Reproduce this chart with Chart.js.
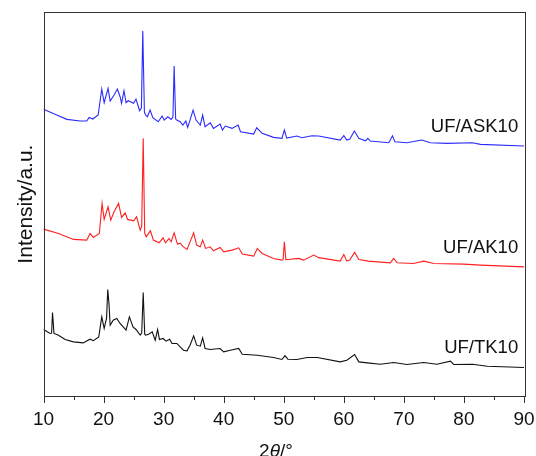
<!DOCTYPE html>
<html>
<head>
<meta charset="utf-8">
<script src="https://cdn.jsdelivr.net/npm/chart.js@4"></script>
<style>
  html, body { margin: 0; padding: 0; background: #fff; }
  #wrap { width: 536px; height: 456px; }
</style>
</head>
<body>
<div id="wrap"><canvas id="xrd" width="536" height="456"></canvas></div>
<script>
// XRD patterns (intensity in arbitrary units, offset per sample)
const askTheta = [10, 12.2, 13.9, 16.1, 17.2, 17.6, 18.2, 19.1, 19.7, 20.1, 20.75, 21.1, 21.75, 22.3, 22.75, 23.0, 23.4, 23.75, 24.1, 25, 25.4, 26, 26.3, 26.53, 26.8, 27, 27.3, 27.75, 28.2, 29.1, 29.75, 30.1, 30.7, 31.25, 31.55, 31.75, 32.0, 32.2, 32.75, 33.2, 33.7, 34.0, 34.4, 34.9, 35.4, 36.1, 36.5, 36.9, 37.75, 38.3, 39.4, 39.8, 40.25, 41.4, 42.4, 42.8, 45.0, 45.5, 46.4, 48.3, 49.7, 50.1, 50.5, 52.2, 53, 54.7, 55.8, 59.4, 60.0, 60.5, 61.0, 61.75, 62.5, 63.6, 64.0, 64.4, 67.5, 68.1, 68.5, 70.5, 73.0, 74.4, 77.2, 81.4, 82.75, 90];
const askCounts = [286.7, 281, 276.7, 275, 275, 278.7, 277, 281, 307, 293.3, 307.7, 295, 301, 307, 299.3, 292.7, 305.3, 293.3, 295.3, 292.7, 297, 285.3, 288, 365, 284, 281, 279.3, 286, 278.3, 274.3, 280, 276, 279.3, 276.7, 279, 330, 277, 276, 274.3, 271, 275, 268.7, 276, 286, 276, 271, 281, 269.3, 273.3, 267.7, 272, 266, 270, 267.7, 271, 264.3, 262, 268.3, 262.7, 258.7, 257.7, 266, 258, 260, 258.3, 260.3, 260, 256, 260.3, 256, 257, 265, 257.7, 255.3, 257.7, 255, 253.3, 260.3, 254.3, 253.3, 256, 253.3, 252.7, 253.3, 251.7, 250];

const akTheta = [10, 12.5, 15, 17.2, 17.75, 18.3, 19.3, 19.75, 20.1, 20.75, 21.2, 21.75, 22.5, 23, 23.6, 24, 25, 25.5, 26.1, 26.35, 26.6, 26.85, 27.1, 27.8, 28.3, 29.25, 29.9, 30.3, 30.9, 31.25, 31.75, 32.3, 32.75, 33.3, 33.9, 35.0, 35.5, 36.1, 36.5, 37, 37.75, 38.3, 39.4, 40, 41.4, 42.5, 43.1, 45, 45.6, 46.4, 48.3, 49.7, 49.9, 50.1, 50.35, 50.7, 52.5, 53.3, 55.0, 55.8, 59.4, 60, 60.5, 61, 61.8, 62.5, 64.1, 67.75, 68.3, 68.9, 71.6, 73.3, 75, 80, 82.75, 90];
const akCounts = [167, 162.7, 156.7, 156, 162.7, 158.7, 162.7, 192.7, 176.7, 189.3, 176, 184.3, 192.7, 178.7, 183.3, 176.7, 175.3, 179.3, 166, 170, 257.7, 163, 159.3, 165.3, 156, 153.3, 158.3, 153.3, 157.7, 154.3, 163.3, 152, 153, 149.3, 146.7, 163.3, 151, 149.3, 156, 147.7, 149.3, 145.3, 148.7, 144.3, 146, 148.3, 142, 140, 147.7, 142.7, 137.7, 136, 137, 154.3, 136.5, 136.7, 137.7, 136, 141, 138.5, 135, 141.7, 135, 136, 143.7, 136.7, 135, 133.3, 137.7, 133.3, 132.7, 135, 132.7, 132, 131, 129.3];

const tkTheta = [10, 11.1, 11.35, 11.5, 11.75, 12.5, 13.6, 15, 16.6, 17.75, 18.3, 19.2, 19.7, 20.1, 20.5, 20.7, 20.9, 21.1, 21.6, 22.2, 22.75, 23.75, 24.3, 24.9, 25.4, 26.1, 26.35, 26.6, 26.85, 27, 27.5, 28.1, 28.6, 29.0, 29.3, 29.9, 30.4, 31, 31.4, 32.2, 33.3, 33.9, 34.4, 35.0, 35.5, 36.1, 36.5, 36.9, 37.75, 39.4, 40, 41.1, 42.5, 43.1, 45.6, 48.3, 49.7, 50.2, 50.7, 52.2, 53.9, 55.6, 59.4, 60.5, 61.8, 62.5, 63.9, 66.1, 68.3, 70.5, 73.3, 75.5, 77.75, 78.3, 81.4, 83.9, 90];
const tkCounts = [66.7, 62.7, 63, 83.7, 62.7, 61, 56.7, 54.3, 53.3, 57, 55.5, 59.3, 79.3, 67.7, 78, 106.7, 92.7, 71, 76, 77.7, 72.7, 66, 79.3, 69.3, 66.7, 61, 63, 103.7, 62, 61, 62, 64.3, 56, 66.7, 56.7, 57.7, 55, 57, 52.7, 52.7, 46, 45.3, 51, 60.3, 51, 50, 58.3, 47.7, 46.7, 47.7, 44.3, 46, 47.7, 42, 41, 38.7, 36.7, 40.5, 37, 36.7, 38.7, 38.7, 34.3, 36, 41.7, 34.3, 33.3, 32, 33.7, 31.7, 33.7, 32, 35, 31.7, 32, 30, 28.7];

const sampleNames = ['UF/ASK10', 'UF/AK10', 'UF/TK10'];
const sampleColors = ['#2b2bff', '#ff2020', '#111111'];
const xTicks = [10, 20, 30, 40, 50, 60, 70, 80, 90];

const FONT = '"Liberation Sans", Arial, Helvetica, sans-serif';

function toPoints(xs, ys) {
    return xs.map((x, i) => ({ x: x, y: ys[i] }));
}

// frame, minor/major ticks, sample labels and axis titles
const decorPlugin = {
    id: 'decor',
    afterDraw(chart) {
        const ctx = chart.ctx;
        const area = chart.chartArea;
        const xs = chart.scales.x;
        const ys = chart.scales.y;
        ctx.save();
        ctx.strokeStyle = '#333';
        ctx.lineWidth = 1;
        ctx.strokeRect(Math.round(area.left) + 0.5, Math.round(area.top) + 0.5,
            Math.round(area.right - area.left), Math.round(area.bottom - area.top));

        ctx.beginPath();
        for (let v = 10; v <= 90; v += 5) {
            const px = Math.round(xs.getPixelForValue(v)) + 0.5;
            const len = v % 10 === 0 ? 7 : 4;
            ctx.moveTo(px, Math.round(area.bottom));
            ctx.lineTo(px, Math.round(area.bottom) + len);
        }
        ctx.stroke();

        // sample labels, right aligned just inside the frame
        const labelAnchors = [264.3, 142.7, 42.7];
        ctx.fillStyle = '#111';
        ctx.font = '18.5px ' + FONT;
        ctx.textAlign = 'right';
        ctx.textBaseline = 'alphabetic';
        sampleNames.forEach((name, i) => {
            ctx.fillText(name, xs.getPixelForValue(89.03), ys.getPixelForValue(labelAnchors[i]));
        });

        // y title
        ctx.save();
        ctx.translate(31.5, (area.top + area.bottom) / 2);
        ctx.rotate(-Math.PI / 2);
        ctx.textAlign = 'center';
        ctx.font = '21px ' + FONT;
        ctx.fillText('Intensity/a.u.', 0, 0);
        ctx.restore();

        // x title: 2θ/° with italic theta
        const parts = [['2', ''], ['\u03b8', 'italic '], ['/\u00b0', '']];
        let total = 0;
        parts.forEach(p => { ctx.font = p[1] + '19px ' + FONT; total += ctx.measureText(p[0]).width; });
        let cx = 276 - total / 2;
        ctx.textAlign = 'left';
        ctx.textBaseline = 'alphabetic';
        parts.forEach(p => {
            ctx.font = p[1] + '19px ' + FONT;
            ctx.fillText(p[0], cx, 457);
            cx += ctx.measureText(p[0]).width;
        });
        ctx.restore();
    }
};

const seriesData = [
    toPoints(askTheta, askCounts),
    toPoints(akTheta, akCounts),
    toPoints(tkTheta, tkCounts)
];

new Chart(document.getElementById('xrd'), {
    type: 'line',
    data: {
        datasets: seriesData.map((pts, i) => ({
            label: sampleNames[i],
            data: pts,
            borderColor: sampleColors[i],
            borderWidth: 1.1,
            pointRadius: 0,
            tension: 0,
            fill: false
        }))
    },
    options: {
        responsive: false,
        animation: false,
        events: [],
        layout: { padding: { left: 43.5, right: 12, top: 12, bottom: 13 } },
        plugins: { legend: { display: false }, tooltip: { enabled: false } },
        scales: {
            x: {
                type: 'linear',
                min: 10,
                max: 90,
                afterBuildTicks: scale => { scale.ticks = xTicks.map(v => ({ value: v })); },
                // labels at the ends may hang past the frame, like the original
                afterFit: scale => { scale.paddingLeft = 0; scale.paddingRight = 0; },
                grid: { display: false, drawTicks: false },
                border: { display: false },
                ticks: {
                    color: '#111',
                    padding: 12,
                    maxRotation: 0,
                    font: { family: FONT, size: 19 }
                }
            },
            y: {
                display: false,
                min: 0,
                max: 384
            }
        }
    },
    plugins: [decorPlugin]
});
</script>
</body>
</html>
